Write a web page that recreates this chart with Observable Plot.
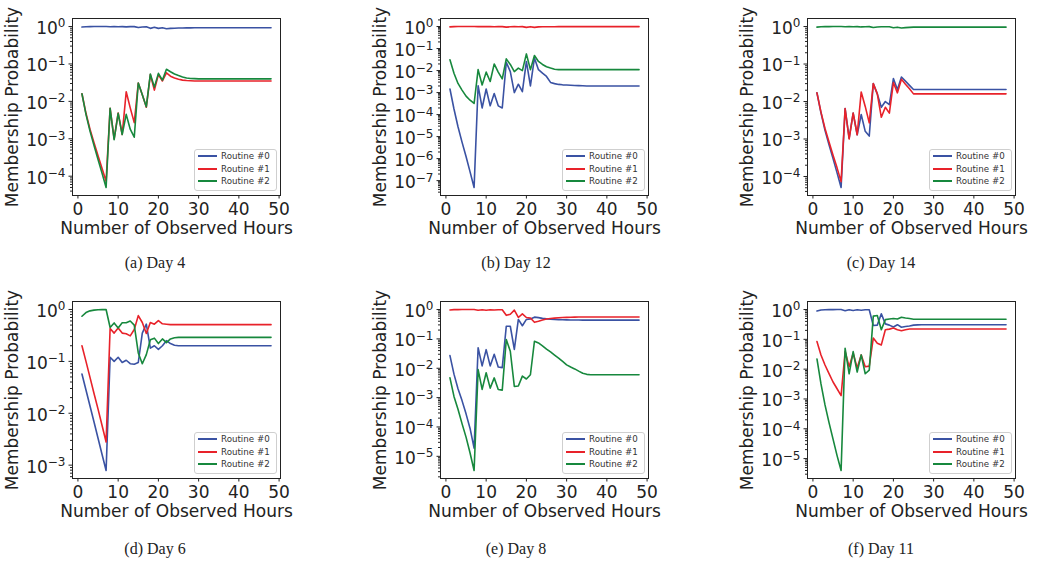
<!DOCTYPE html>
<html>
<head>
<meta charset="utf-8">
<script src="https://cdn.jsdelivr.net/npm/d3@7"></script>
<script src="https://cdn.jsdelivr.net/npm/@observablehq/plot@0.6"></script>
<style>
  html, body { margin: 0; padding: 0; background: #fff; }
  #page { position: relative; width: 1041px; height: 562px; overflow: hidden; background: #fff; }
  .panel { position: absolute; }
  .legend {
    position: absolute; box-sizing: border-box;
    background: rgba(255,255,255,0.8); border: 1px solid #cfcfcf; border-radius: 3px;
    font-family: "DejaVu Sans", sans-serif; font-size: 8.7px; color: #333;
  }
  .legend .row { position: absolute; left: 3px; height: 12px; line-height: 12px; white-space: nowrap; }
  .legend .sw { position: absolute; left: 0; top: 5px; width: 19px; height: 2px; }
  .legend .lbl { position: absolute; left: 23px; top: 0; }
  .caption {
    position: absolute; width: 220px; text-align: center;
    font-family: "Liberation Serif", "Times New Roman", serif; font-size: 16px; line-height: 16px; color: #222;
  }
</style>
</head>
<body>
<div id="page"></div>
<script>
// Observed hours 1..48 (x positions shared by every panel)
const hours = d3.range(1, 49);
const routines = ["Routine #0", "Routine #1", "Routine #2"];
const routineColors = ["#3a52a3", "#e8222a", "#17883d"];

// (a) Day 4
const day4_r0 = [0.968, 0.990, 0.996, 0.998, 0.999, 0.9993, 0.9995, 0.987, 0.998, 0.990,
  0.997, 0.977, 0.992, 0.996, 0.938, 0.970, 0.986, 0.894, 0.956, 0.892,
  0.928, 0.870, 0.891, 0.904, 0.912, 0.918, 0.921, 0.923, 0.924, 0.924,
  0.924, 0.924, 0.924, 0.924, 0.924, 0.924, 0.924, 0.924, 0.924, 0.924,
  0.925, 0.925, 0.925, 0.925, 0.925, 0.925, 0.925, 0.925];
const day4_r1 = [0.016, 0.0048, 0.0018, 0.00079, 0.00035, 0.00016, 0.000073, 0.0065, 0.0010, 0.0049,
  0.0013, 0.018, 0.0067, 0.0027, 0.031, 0.015, 0.0070, 0.052, 0.020, 0.052,
  0.035, 0.058, 0.047, 0.042, 0.039, 0.037, 0.036, 0.0355, 0.035, 0.035,
  0.035, 0.035, 0.035, 0.035, 0.035, 0.035, 0.035, 0.035, 0.035, 0.035,
  0.035, 0.035, 0.035, 0.035, 0.035, 0.035, 0.035, 0.035];
const day4_r2 = [0.016, 0.0045, 0.0016, 0.00066, 0.00028, 0.00012, 0.000050, 0.0065, 0.00095, 0.0048,
  0.0013, 0.0045, 0.0018, 0.0011, 0.031, 0.015, 0.0072, 0.054, 0.024, 0.056,
  0.037, 0.072, 0.062, 0.054, 0.049, 0.045, 0.042, 0.041, 0.0405, 0.040,
  0.040, 0.040, 0.040, 0.040, 0.040, 0.040, 0.040, 0.040, 0.040, 0.040,
  0.040, 0.040, 0.040, 0.040, 0.040, 0.040, 0.040, 0.040];

// (b) Day 12
const day12_r0 = [0.00145, 0.00018, 0.000028, 0.0000056, 0.00000126, 0.00000025, 0.000000049, 0.00205, 0.00020, 0.00145,
  0.00025, 0.0009, 0.00025, 0.00020, 0.024, 0.009, 0.0010, 0.0024, 0.0011, 0.026,
  0.0020, 0.037, 0.011, 0.0076, 0.0054, 0.0029, 0.00255, 0.00235, 0.00225, 0.0022,
  0.00215, 0.0021, 0.00208, 0.00205, 0.0020, 0.0020, 0.0020, 0.0020, 0.0020, 0.0020,
  0.0020, 0.0020, 0.0020, 0.0020, 0.0020, 0.0020, 0.0020, 0.0020];
const day12_r1 = [0.968, 0.992, 0.997, 0.9987, 0.9993, 0.9995, 0.9997, 0.987, 0.9976, 0.990,
  0.9965, 0.979, 0.991, 0.9956, 0.942, 0.972, 0.990, 0.985, 0.989, 0.917,
  0.987, 0.915, 0.963, 0.973, 0.980, 0.984, 0.986, 0.987, 0.987, 0.987,
  0.987, 0.987, 0.987, 0.987, 0.987, 0.987, 0.987, 0.987, 0.987, 0.987,
  0.987, 0.987, 0.987, 0.987, 0.987, 0.987, 0.987, 0.987];
const day12_r2 = [0.031, 0.0076, 0.0026, 0.0013, 0.00069, 0.00045, 0.00032, 0.011, 0.0022, 0.0085,
  0.0032, 0.020, 0.0085, 0.0042, 0.034, 0.019, 0.009, 0.013, 0.010, 0.057,
  0.011, 0.048, 0.026, 0.019, 0.015, 0.013, 0.0115, 0.011, 0.011, 0.011,
  0.011, 0.011, 0.011, 0.011, 0.011, 0.011, 0.011, 0.011, 0.011, 0.011,
  0.011, 0.011, 0.011, 0.011, 0.011, 0.011, 0.011, 0.011];

// (c) Day 14
const day14_r0 = [0.017, 0.0050, 0.0017, 0.00070, 0.00030, 0.000125, 0.000051, 0.0065, 0.00105, 0.0049,
  0.0013, 0.0045, 0.0016, 0.0012, 0.030, 0.016, 0.0070, 0.010, 0.0083, 0.041,
  0.021, 0.045, 0.035, 0.027, 0.021, 0.021, 0.021, 0.021, 0.021, 0.021,
  0.021, 0.021, 0.021, 0.021, 0.021, 0.021, 0.021, 0.021, 0.021, 0.021,
  0.021, 0.021, 0.021, 0.021, 0.021, 0.021, 0.021, 0.021];
const day14_r1 = [0.017, 0.0052, 0.0019, 0.00083, 0.00037, 0.00017, 0.000073, 0.0065, 0.0010, 0.0049,
  0.0013, 0.018, 0.0074, 0.0027, 0.030, 0.016, 0.0038, 0.0070, 0.0049, 0.032,
  0.017, 0.039, 0.029, 0.022, 0.016, 0.016, 0.016, 0.016, 0.016, 0.016,
  0.016, 0.016, 0.016, 0.016, 0.016, 0.016, 0.016, 0.016, 0.016, 0.016,
  0.016, 0.016, 0.016, 0.016, 0.016, 0.016, 0.016, 0.016];
const day14_r2 = [0.966, 0.990, 0.996, 0.998, 0.999, 0.9997, 0.9999, 0.987, 0.998, 0.990,
  0.997, 0.977, 0.991, 0.996, 0.940, 0.968, 0.989, 0.983, 0.987, 0.927,
  0.962, 0.916, 0.936, 0.951, 0.963, 0.963, 0.963, 0.963, 0.963, 0.963,
  0.963, 0.963, 0.963, 0.963, 0.963, 0.963, 0.963, 0.963, 0.963, 0.963,
  0.963, 0.963, 0.963, 0.963, 0.963, 0.963, 0.963, 0.963];

// (d) Day 6
const day6_r0 = [0.057, 0.028, 0.0138, 0.0068, 0.0033, 0.0016, 0.00079, 0.12, 0.10, 0.12,
  0.095, 0.105, 0.090, 0.088, 0.095, 0.35, 0.52, 0.18, 0.20, 0.17,
  0.20, 0.25, 0.22, 0.205, 0.20, 0.20, 0.20, 0.20, 0.20, 0.20,
  0.20, 0.20, 0.20, 0.20, 0.20, 0.20, 0.20, 0.20, 0.20, 0.20,
  0.20, 0.20, 0.20, 0.20, 0.20, 0.20, 0.20, 0.20];
const day6_r1 = [0.20, 0.10, 0.049, 0.024, 0.012, 0.0058, 0.0028, 0.43, 0.35, 0.44,
  0.35, 0.34, 0.31, 0.41, 0.76, 0.56, 0.345, 0.56, 0.52, 0.61,
  0.53, 0.52, 0.51, 0.51, 0.51, 0.51, 0.51, 0.51, 0.51, 0.51,
  0.51, 0.51, 0.51, 0.51, 0.51, 0.51, 0.51, 0.51, 0.51, 0.51,
  0.51, 0.51, 0.51, 0.51, 0.51, 0.51, 0.51, 0.51];
const day6_r2 = [0.74, 0.87, 0.94, 0.97, 0.985, 0.992, 0.996, 0.45, 0.55, 0.44,
  0.555, 0.555, 0.60, 0.50, 0.145, 0.09, 0.135, 0.26, 0.28, 0.22,
  0.27, 0.23, 0.27, 0.285, 0.29, 0.29, 0.29, 0.29, 0.29, 0.29,
  0.29, 0.29, 0.29, 0.29, 0.29, 0.29, 0.29, 0.29, 0.29, 0.29,
  0.29, 0.29, 0.29, 0.29, 0.29, 0.29, 0.29, 0.29];

// (e) Day 8
const day8_r0 = [0.027, 0.0063, 0.0020, 0.00079, 0.00028, 0.000089, 0.000019, 0.050, 0.012, 0.043,
  0.012, 0.030, 0.011, 0.0105, 0.27, 0.27, 0.044, 0.46, 0.28, 0.46,
  0.48, 0.55, 0.53, 0.50, 0.48, 0.47, 0.46, 0.455, 0.45, 0.445,
  0.443, 0.44, 0.438, 0.437, 0.436, 0.436, 0.436, 0.436, 0.436, 0.436,
  0.436, 0.436, 0.436, 0.436, 0.436, 0.436, 0.436, 0.436];
const day8_r1 = [0.968, 0.9926, 0.9976, 0.999, 0.9996, 0.9999, 0.99998, 0.941, 0.986, 0.950,
  0.986, 0.965, 0.987, 0.988, 0.635, 0.69, 0.953, 0.537, 0.715, 0.536,
  0.514, 0.367, 0.397, 0.442, 0.475, 0.494, 0.512, 0.523, 0.533, 0.542,
  0.546, 0.550, 0.554, 0.555, 0.556, 0.556, 0.556, 0.556, 0.556, 0.556,
  0.556, 0.556, 0.556, 0.556, 0.556, 0.556, 0.556, 0.556];
const day8_r2 = [0.0047, 0.0011, 0.00040, 0.00013, 0.000045, 0.000013, 0.0000033, 0.009, 0.0019, 0.007,
  0.0021, 0.0047, 0.0019, 0.0018, 0.095, 0.038, 0.0024, 0.0025, 0.0054, 0.0043,
  0.006, 0.083, 0.073, 0.058, 0.045, 0.036, 0.028, 0.022, 0.017, 0.013,
  0.011, 0.0095, 0.008, 0.0068, 0.0062, 0.006, 0.006, 0.006, 0.006, 0.006,
  0.006, 0.006, 0.006, 0.006, 0.006, 0.006, 0.006, 0.006];

// (f) Day 11
const day11_r0 = [0.89, 0.965, 0.986, 0.993, 0.996, 0.998, 0.9987, 0.91, 0.98, 0.925,
  0.98, 0.942, 0.981, 0.978, 0.29, 0.30, 0.72, 0.33, 0.30, 0.26,
  0.31, 0.255, 0.27, 0.28, 0.30, 0.305, 0.31, 0.31, 0.31, 0.31,
  0.31, 0.31, 0.31, 0.31, 0.31, 0.31, 0.31, 0.31, 0.31, 0.31,
  0.31, 0.31, 0.31, 0.31, 0.31, 0.31, 0.31, 0.31];
const day11_r1 = [0.085, 0.030, 0.0138, 0.0071, 0.0037, 0.0022, 0.0013, 0.039, 0.012, 0.034,
  0.011, 0.030, 0.012, 0.0126, 0.11, 0.074, 0.065, 0.21, 0.22, 0.24,
  0.21, 0.195, 0.21, 0.222, 0.222, 0.222, 0.222, 0.222, 0.222, 0.222,
  0.222, 0.222, 0.222, 0.222, 0.222, 0.222, 0.222, 0.222, 0.222, 0.222,
  0.222, 0.222, 0.222, 0.222, 0.222, 0.222, 0.222, 0.222];
const day11_r2 = [0.022, 0.0032, 0.00063, 0.00016, 0.000045, 0.0000126, 0.000004, 0.050, 0.007, 0.039,
  0.008, 0.030, 0.007, 0.0093, 0.60, 0.63, 0.21, 0.46, 0.48, 0.50,
  0.48, 0.55, 0.52, 0.50, 0.47, 0.47, 0.47, 0.47, 0.47, 0.47,
  0.47, 0.47, 0.47, 0.47, 0.47, 0.47, 0.47, 0.47, 0.47, 0.47,
  0.47, 0.47, 0.47, 0.47, 0.47, 0.47, 0.47, 0.47];

const xTicks = [0, 10, 20, 30, 40, 50];

const panels = [
  {caption: "(a) Day 4",  series: [day4_r0, day4_r1, day4_r2],    col: 0, row: 0},
  {caption: "(b) Day 12", series: [day12_r0, day12_r1, day12_r2], col: 1, row: 0},
  {caption: "(c) Day 14", series: [day14_r0, day14_r1, day14_r2], col: 2, row: 0},
  {caption: "(d) Day 6",  series: [day6_r0, day6_r1, day6_r2],    col: 0, row: 1},
  {caption: "(e) Day 8",  series: [day8_r0, day8_r1, day8_r2],    col: 1, row: 1},
  {caption: "(f) Day 11", series: [day11_r0, day11_r1, day11_r2], col: 2, row: 1}
];

// Layout of the 2x3 grid (frame = plotting area)
const frameLeft = [72, 440, 807];
const frameTop = [18, 301];
const captionX = [155, 516, 881];
const captionBaseline = [268, 554];
const FW = 208, FH = 177;
const ML = 72, MT = 18, MR = 14, MB = 50;

const page = document.getElementById("page");
const SVGNS = "http://www.w3.org/2000/svg";

function expLabel(v) {
  const e = Math.round(Math.log10(v));
  return "10^" + String(e).replace("-", "\u2212");
}

function drawPanel(cfg) {
  const rows = [];
  cfg.series.forEach((vals, i) => vals.forEach((p, j) => rows.push({hour: hours[j], p, routine: routines[i]})));

  // log-space autoscale with a 5% margin on each side
  const logs = rows.map(d => Math.log10(d.p));
  const lo = d3.min(logs), hi = d3.max(logs), pad = 0.05 * (hi - lo);
  const domain = [10 ** (lo - pad), 10 ** (hi + pad)];
  const major = d3.range(Math.ceil(lo - pad), Math.floor(hi + pad) + 1).map(e => 10 ** e);
  const minor = [];
  for (let k = Math.floor(lo - pad); k <= Math.floor(hi + pad); k++) {
    for (let m = 2; m <= 9; m++) {
      const v = m * 10 ** k;
      if (v >= domain[0] && v <= domain[1]) minor.push(v);
    }
  }

  const chart = Plot.plot({
    width: ML + FW + MR,
    height: MT + FH + MB,
    marginLeft: ML, marginTop: MT, marginRight: MR, marginBottom: MB,
    style: {fontFamily: "DejaVu Sans, sans-serif", fontSize: "17px", color: "#222", background: "transparent", overflow: "visible"},
    x: {domain: [-1.35, 50.35]},
    y: {type: "log", domain},
    color: {domain: routines, range: routineColors},
    marks: [
      Plot.axisY(minor, {tickSize: 2, tickFormat: () => "", label: null}),
      Plot.axisY(major, {
        tickSize: 3.5, tickPadding: 3.5, tickFormat: expLabel,
        label: "Membership Probability", labelAnchor: "center", labelOffset: 67, labelArrow: "none"
      }),
      Plot.axisX(xTicks, {
        tickSize: 3.5, tickPadding: 3.5,
        label: "Number of Observed Hours", labelAnchor: "center", labelOffset: 38, labelArrow: "none"
      }),
      Plot.line(rows, {x: "hour", y: "p", stroke: "routine", z: "routine", strokeWidth: 1.6}),
      Plot.frame({stroke: "#222", strokeWidth: 1})
    ]
  });

  // Typeset "10^k" tick labels with a raised exponent
  chart.querySelectorAll("text").forEach(t => {
    const m = /^10\^(.+)$/.exec(t.textContent);
    if (!m) return;
    t.textContent = "";
    const base = document.createElementNS(SVGNS, "tspan");
    base.setAttribute("dy", "2");
    base.textContent = "10";
    const sup = document.createElementNS(SVGNS, "tspan");
    sup.setAttribute("dy", "-6.5");
    sup.setAttribute("font-size", "12");
    sup.textContent = m[1];
    t.appendChild(base);
    t.appendChild(sup);
  });

  const fl = frameLeft[cfg.col], ft = frameTop[cfg.row];
  const holder = document.createElement("div");
  holder.className = "panel";
  holder.style.left = (fl - ML) + "px";
  holder.style.top = (ft - MT) + "px";
  holder.style.width = (ML + FW + MR) + "px";
  holder.style.height = (MT + FH + MB) + "px";
  holder.appendChild(chart);
  page.appendChild(holder);

  // legend in the lower-right corner of the frame
  const LW = 83, LH = 42;
  const rowTops = [0, 13, 25];
  const legend = document.createElement("div");
  legend.className = "legend";
  legend.style.left = (fl + FW - 3 - LW) + "px";
  legend.style.top = (ft + FH - 4 - LH) + "px";
  legend.style.width = LW + "px";
  legend.style.height = LH + "px";
  routines.forEach((name, i) => {
    const row = document.createElement("div");
    row.className = "row";
    row.style.top = rowTops[i] + "px";
    const sw = document.createElement("span");
    sw.className = "sw";
    sw.style.background = routineColors[i];
    const lbl = document.createElement("span");
    lbl.className = "lbl";
    lbl.textContent = name;
    row.appendChild(sw);
    row.appendChild(lbl);
    legend.appendChild(row);
  });
  page.appendChild(legend);

  const cap = document.createElement("div");
  cap.className = "caption";
  cap.style.left = (captionX[cfg.col] - 110) + "px";
  cap.style.top = (captionBaseline[cfg.row] - 13.4) + "px";
  cap.textContent = cfg.caption;
  page.appendChild(cap);
}

panels.forEach(drawPanel);
</script>
</body>
</html>
